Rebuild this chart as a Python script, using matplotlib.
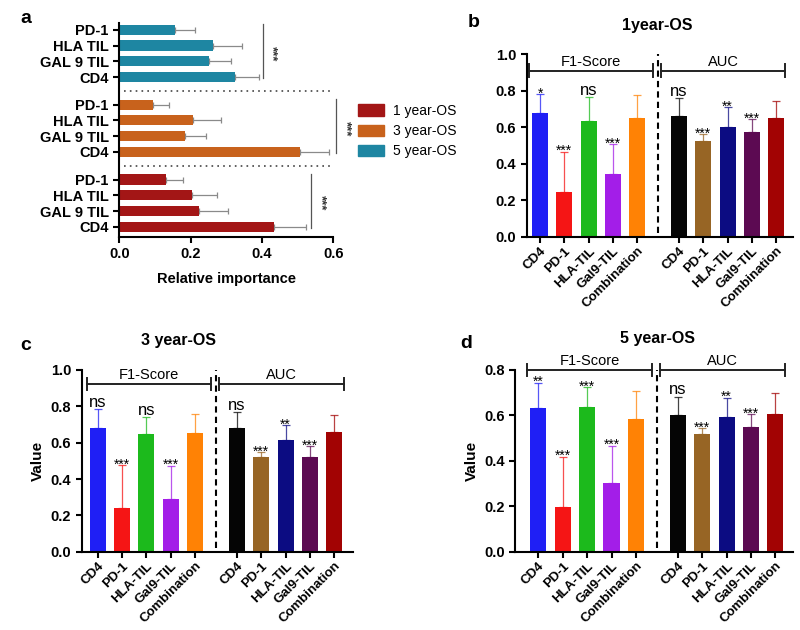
import matplotlib
matplotlib.use('Agg')

import numpy as np
import matplotlib.pyplot as plt
from matplotlib.patches import Patch

plt.rcParams['font.family'] = ['Liberation Sans', 'DejaVu Sans']

# ---- panel a: relative importance ----
features = ['PD-1', 'HLA TIL', 'GAL 9 TIL', 'CD4']
imp_5y = [0.156, 0.264, 0.251, 0.326]
imp_5y_err = [0.056, 0.079, 0.062, 0.067]
imp_3y = [0.095, 0.207, 0.184, 0.507]
imp_3y_err = [0.045, 0.078, 0.058, 0.081]
imp_1y = [0.131, 0.204, 0.224, 0.435]
imp_1y_err = [0.048, 0.071, 0.080, 0.090]
group_labels = ['1 year-OS', '3 year-OS', '5 year-OS']
group_colors = ['#A31616', '#C8621C', '#1E86A2']

# ---- panels b-d: F1-score and AUC ----
markers = ['CD4', 'PD-1', 'HLA-TIL', 'Gal9-TIL', 'Combination']
f1_colors = ['#1F1FF5', '#F51515', '#1CBA1C', '#A31EE8', '#FF8205']
auc_colors = ['#050505', '#976525', '#0C0C82', '#5C0A52', '#A20303']

f1_1y = [0.676, 0.243, 0.634, 0.344, 0.649]
f1_1y_err = [0.105, 0.223, 0.134, 0.162, 0.128]
auc_1y = [0.662, 0.525, 0.603, 0.572, 0.649]
auc_1y_err = [0.097, 0.038, 0.106, 0.072, 0.095]
f1_1y_sig = ['*', '***', 'ns', '***', '']
auc_1y_sig = ['ns', '***', '**', '***', '']

f1_3y = [0.683, 0.242, 0.646, 0.288, 0.655]
f1_3y_err = [0.100, 0.235, 0.093, 0.185, 0.103]
auc_3y = [0.683, 0.523, 0.615, 0.523, 0.661]
auc_3y_err = [0.088, 0.024, 0.082, 0.059, 0.091]
f1_3y_sig = ['ns', '***', 'ns', '***', '']
auc_3y_sig = ['ns', '***', '**', '***', '']

f1_5y = [0.634, 0.195, 0.636, 0.304, 0.584]
f1_5y_err = [0.110, 0.223, 0.088, 0.163, 0.125]
auc_5y = [0.602, 0.518, 0.592, 0.548, 0.606]
auc_5y_err = [0.081, 0.025, 0.086, 0.058, 0.091]
f1_5y_sig = ['**', '***', '***', '***', '']
auc_5y_sig = ['ns', '***', '**', '***', '']

fig = plt.figure(figsize=(8, 6.3), dpi=100)

# ------------------------------------------------ panel a
ax = fig.add_axes([0.149, 0.624, 0.2675, 0.340])
groups = [(imp_5y, imp_5y_err, group_colors[2], 0.0, 0.404),
          (imp_3y, imp_3y_err, group_colors[1], 4.75, 0.609),
          (imp_1y, imp_1y_err, group_colors[0], 9.5, 0.539)]
ypos_all = []
for vals, errs, col, start, sig_x in groups:
    ypos = start + np.arange(len(features))
    ypos_all.extend(ypos)
    ax.barh(ypos, vals, height=0.64, color=col, zorder=2)
    ax.errorbar(vals, ypos, xerr=[np.zeros(len(errs)), errs], fmt='none',
                ecolor='#8a8a8a', elinewidth=0.9, capsize=2.5, capthick=0.9, zorder=1)
    ax.plot([sig_x, sig_x], [start - 0.35, start + 3.05], color='#555555', lw=0.9, clip_on=False)
    ax.text(sig_x + 0.008, start + 1.5, '***', rotation=270, ha='left', va='center',
            fontsize=9.5, fontweight='bold', color='#333333', clip_on=False)
for yd in (3.875, 8.625):
    ax.plot([0.013, 0.6], [yd, yd], ls=(0, (1, 2.5)), color='#444444', lw=1.2, clip_on=False)
ax.set_yticks(ypos_all)
ax.set_yticklabels(features * 3, fontsize=10.5, fontweight='bold')
ax.set_ylim(13.14, -0.45)
ax.set_xlim(0, 0.6)
ax.set_xticks([0.0, 0.2, 0.4, 0.6])
ax.set_xticklabels(['0.0', '0.2', '0.4', '0.6'], fontsize=10.5, fontweight='bold')
ax.set_xlabel('Relative importance', fontsize=10.5, fontweight='bold', labelpad=8)
for s in ('top', 'right'):
    ax.spines[s].set_visible(False)
for s in ('left', 'bottom'):
    ax.spines[s].set_linewidth(1.5)
ax.tick_params(width=1.5, length=4)
handles = [Patch(color=c) for c in group_colors]
fig.legend(handles, group_labels, loc='upper left', bbox_to_anchor=(0.432, 0.855),
           frameon=False, fontsize=10, handlelength=1.9, handleheight=0.9,
           labelspacing=0.45, handletextpad=0.6)
fig.text(0.025, 0.97, 'a', fontsize=14, fontweight='bold', va='center')


# ------------------------------------------------ panels b-d
def score_panel(rect, f1, f1_err, auc, auc_err, f1_sig, auc_sig, title, ymax,
                xlim, bracket_y, ylabel, letter, letter_xy, title_xy):
    ax = fig.add_axes(rect)
    x_f1 = np.arange(5)
    x_auc = 5.72 + np.arange(5)
    for xs, vals, errs, cols, sigs in ((x_f1, f1, f1_err, f1_colors, f1_sig),
                                        (x_auc, auc, auc_err, auc_colors, auc_sig)):
        ax.bar(xs, vals, width=0.66, color=cols, zorder=2)
        for x, v, e, c, s in zip(xs, vals, errs, cols, sigs):
            ax.errorbar([x], [v], yerr=[[0], [e]], fmt='none', ecolor=c, elinewidth=0.9,
                        capsize=3, capthick=0.9, alpha=0.75, zorder=1)
            if s == 'ns':
                ax.text(x, v + e - 0.005 * ymax, s, ha='center', va='bottom', fontsize=12)
            elif s:
                ax.text(x, v + e - 0.035 * ymax, s, ha='center', va='bottom', fontsize=10)
    # dashed separator
    ax.plot([4.86, 4.86], [0.02 * ymax, ymax], ls=(0, (3, 2)), color='black', lw=1.5, zorder=3)
    # brackets
    tick_h = 0.035 * ymax
    for x0, x1, lab in ((-0.45, 4.65, 'F1-Score'), (5.0, 10.1, 'AUC')):
        ax.plot([x0, x1], [bracket_y, bracket_y], color='#222222', lw=1.4, clip_on=False)
        for xe in (x0, x1):
            ax.plot([xe, xe], [bracket_y - tick_h, bracket_y + tick_h], color='#222222',
                    lw=1.4, clip_on=False)
        ax.text((x0 + x1) / 2, bracket_y + 0.012 * ymax, lab, ha='center', va='bottom',
                fontsize=10.5)
    ax.set_xlim(*xlim)
    ax.set_ylim(0, ymax)
    yt = np.round(np.arange(0, ymax + 0.01, 0.2), 1)
    ax.set_yticks(yt)
    ax.set_yticklabels([f'{t:.1f}' for t in yt], fontsize=10.5, fontweight='bold')
    ax.set_xticks(list(x_f1) + list(x_auc))
    ax.set_xticklabels(markers * 2, rotation=45, ha='right', rotation_mode='anchor',
                       fontsize=9.5, fontweight='bold')
    for s in ('top', 'right'):
        ax.spines[s].set_visible(False)
    for s in ('left', 'bottom'):
        ax.spines[s].set_linewidth(1.5)
    ax.tick_params(width=1.5, length=4)
    ax.tick_params(axis='x', pad=2)
    if ylabel:
        ax.set_ylabel('Value', fontsize=11, fontweight='bold')
    fig.text(title_xy[0], title_xy[1], title, fontsize=11.5, fontweight='bold',
             ha='center', va='center')
    fig.text(letter_xy[0], letter_xy[1], letter, fontsize=14, fontweight='bold', va='center')
    return ax


score_panel([0.6584, 0.6243, 0.333, 0.2895], f1_1y, f1_1y_err, auc_1y, auc_1y_err,
            f1_1y_sig, auc_1y_sig, '1year-OS', 1.0, (-0.55, 10.42), 0.91, False,
            'b', (0.585, 0.965), (0.822, 0.96))
score_panel([0.102, 0.1243, 0.3396, 0.2884], f1_3y, f1_3y_err, auc_3y, auc_3y_err,
            f1_3y_sig, auc_3y_sig, '3 year-OS', 1.0, (-0.66, 10.5), 0.923, True,
            'c', (0.025, 0.452), (0.223, 0.46))
score_panel([0.644, 0.1243, 0.3475, 0.2884], f1_5y, f1_5y_err, auc_5y, auc_5y_err,
            f1_5y_sig, auc_5y_sig, '5 year-OS', 0.8, (-0.95, 10.45), 0.8, True,
            'd', (0.575, 0.455), (0.822, 0.462))

plt.savefig('out.png', dpi=100)
